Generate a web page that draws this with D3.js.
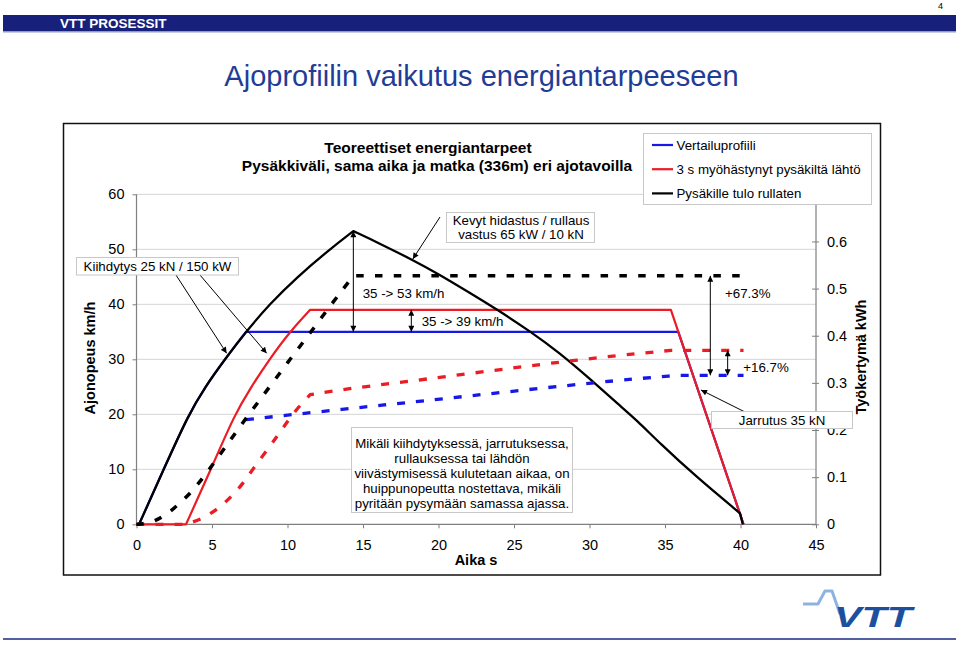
<!DOCTYPE html>
<html><head><meta charset="utf-8">
<script src="https://cdn.jsdelivr.net/npm/d3@7"></script>
<style>
body{margin:0;background:#fff}
svg{display:block}
text{font-family:"Liberation Sans",Arial,Helvetica,sans-serif;fill:#000}
</style>
</head><body>
<svg id="c" width="959" height="656"></svg>
<script>
// ---------- DATA ----------
const xTicks = [0,5,10,15,20,25,30,35,40,45];
const yLeftTicks = [0,10,20,30,40,50,60];
const yRightTicks = [0,0.1,0.2,0.3,0.4,0.5,0.6];
const legendLabels = ["Vertailuprofiili","3 s myöhästynyt pysäkiltä lähtö","Pysäkille tulo rullaten"];

// speed km/h vs time s
const speedBlue = [[0,0],[0.17,0],[1.8,10],[3.45,20],[4.55,25],[5.85,30],[7.25,35],[35.88,35],[40.2,0]];
const speedRed = [[0,0],[3.28,0],[4.93,10],[6.5,20],[7.6,25],[8.8,30],[10.15,35],[11.5,39],[35.39,39],[40.2,0]];
const speedBlack = [[0,0],[0.17,0],[1.8,10],[3.45,20],[4.55,25],[5.85,30],[7.25,35],[8.8,40],[10.65,45],[12.8,50],[14.36,53.3],
  [16,51.2],[18.3,48.05],[20,45.5],[22,42.2],[23.85,39.1],[26.06,35.1],[28,31.2],[30,26.5],[32,21.6],[33.1,19],[34.67,14.7],[37,8.8],[39.97,2.0],[40.15,0]];

// cumulative work kWh vs time s
const workBlue = [[7.25,0.222],[13.9,0.245],[18.8,0.261],[25.4,0.284],[32,0.306],[35.88,0.316],[40.2,0.316]];
const workRed = [[0,0],[3.28,0],[4.3,0.011],[5.3,0.03],[6.3,0.059],[7.07,0.087],[7.7,0.117],[8.5,0.151],[9.3,0.186],[9.95,0.216],[10.7,0.248],[11.5,0.275],
  [14,0.288],[18.8,0.306],[25.4,0.334],[30.9,0.355],[35.39,0.369],[40.2,0.369]];
const workBlack = [[0,0],[0.17,0],[1.0,0.004],[1.78,0.016],[2.77,0.041],[3.65,0.069],[4.43,0.099],[5.8,0.160],[7.18,0.222],[8.73,0.288],[10.17,0.350],[11.64,0.412],[13.03,0.472],[14.36,0.527],[40.15,0.527]];

// annotation values
const peakBlack = [14.36,53.3];
const cruiseBlue = 35, cruiseRed = 39;
const arrow39T = 18.2;
const finalWork = {blue:0.316, red:0.369, black:0.527};
const arrow673T = 38.0, arrow167T = 39.15;

// ---------- SETUP ----------
const svg = d3.select("#c");
const x = d3.scaleLinear().domain([0,45]).range([136.5,816]);
const yL = d3.scaleLinear().domain([0,60]).range([524.3,194.3]);
const yR = d3.scaleLinear().domain([0,0.7]).range([524.3,194.3]);
const BLUE="#1717e6", RED="#ec1c24", BLACK="#000";

const defs = svg.append("defs");
defs.append("marker").attr("id","ah").attr("viewBox","0 0 10 10").attr("refX",10).attr("refY",5)
  .attr("markerWidth",7).attr("markerHeight",6).attr("markerUnits","userSpaceOnUse")
  .attr("orient","auto-start-reverse").append("path").attr("d","M0,0L10,5L0,10z").attr("fill","#000");

// header
svg.append("text").attr("x",938).attr("y",9).attr("font-size",9).text("4");
svg.append("rect").attr("x",3).attr("y",15).attr("width",953).attr("height",16).attr("fill","#17207a");
svg.append("rect").attr("x",3).attr("y",31).attr("width",953).attr("height",1.5).attr("fill","#8f9cc8");
svg.append("text").attr("x",60).attr("y",27.5).attr("font-size",13.5).attr("font-weight","bold")
  .style("fill","#fff").text("VTT PROSESSIT");
svg.append("text").attr("x",481.5).attr("y",86).attr("text-anchor","middle").attr("font-size",29)
  .style("fill","#1f3d96").text("Ajoprofiilin vaikutus energiantarpeeseen");

// chart frame
svg.append("rect").attr("x",63.5).attr("y",123.5).attr("width",817).attr("height",451.5)
  .attr("fill","#fff").attr("stroke","#111").attr("stroke-width",1.5);

// chart titles
svg.append("text").attr("x",428).attr("y",153).attr("text-anchor","middle").attr("font-size",15.5).attr("font-weight","bold")
  .text("Teoreettiset energiantarpeet");
svg.append("text").attr("x",437).attr("y",171).attr("text-anchor","middle").attr("font-size",15.5).attr("font-weight","bold")
  .text("Pysäkkiväli, sama aika ja matka (336m) eri ajotavoilla");

// gridlines
svg.append("g").selectAll("line").data(yLeftTicks.filter(d=>d>0)).join("line")
  .attr("x1",x(0)).attr("x2",x(45)).attr("y1",d=>yL(d)).attr("y2",d=>yL(d))
  .attr("stroke","#d4d4d4").attr("stroke-width",1);

// axes
const axisCol="#7f7f7f";
const gL = svg.append("g").attr("transform",`translate(${x(0)},0)`)
  .call(d3.axisLeft(yL).tickValues(yLeftTicks).tickSize(4).tickPadding(8).tickFormat(d3.format("d")));
const gB = svg.append("g").attr("transform",`translate(0,${yL(0)})`)
  .call(d3.axisBottom(x).tickValues(xTicks).tickSize(4).tickPadding(11).tickFormat(d3.format("d")));
const gR = svg.append("g").attr("transform",`translate(${x(45)},0)`)
  .call(d3.axisRight(yR).tickValues(yRightTicks).tickSize(3).tickPadding(8).tickFormat(d=>d===0?"0":d3.format(".1f")(d)));
gR.selectAll(".tick line").attr("x1",-4);
[gL,gB,gR].forEach(g=>{
  g.select(".domain").attr("stroke",axisCol).attr("stroke-width",1.2);
  g.selectAll(".tick line").attr("stroke",axisCol);
  g.selectAll(".tick text").attr("font-size",14.5).attr("font-family","Liberation Sans, Arial, sans-serif").style("fill","#000");
});
gL.select(".domain").attr("d",`M0,${yL(60)}V${yL(0)}`);
gR.select(".domain").attr("d",`M0,${yR(0.7)}V${yR(0)}`);
gB.select(".domain").attr("d",`M${x(0)},0H${x(45)}`);

// axis titles
svg.append("text").attr("transform","translate(95,358) rotate(-90)").attr("text-anchor","middle")
  .attr("font-size",14.5).attr("font-weight","bold").text("Ajonopeus km/h");
svg.append("text").attr("transform","translate(866,357) rotate(-90)").attr("text-anchor","middle")
  .attr("font-size",14.5).attr("font-weight","bold").text("Työkertymä kWh");
svg.append("text").attr("x",476).attr("y",565).attr("text-anchor","middle")
  .attr("font-size",14.5).attr("font-weight","bold").text("Aika s");

// series: path built from segments, smooth (B-spline) where the profile is curved
function pathOf(data, ys, smoothRanges){
  let d = "";
  const lin = d3.line().x(p=>x(p[0])).y(p=>ys(p[1]));
  const smo = d3.line().x(p=>x(p[0])).y(p=>ys(p[1])).curve(d3.curveBasis);
  const parts = [];
  let last = 0;
  smoothRanges.forEach(([a,b])=>{
    if(a>last) parts.push([lin, data.slice(last,a+1)]);
    parts.push([smo, data.slice(a,b+1)]);
    last = b;
  });
  if(last < data.length-1) parts.push([lin, data.slice(last)]);
  parts.forEach(([gen,seg],k)=>{
    let s = gen(seg);
    if(k>0) s = s.replace(/^M/,"L");
    d += s;
  });
  return d;
}
const gS = svg.append("g").attr("fill","none").attr("stroke-linejoin","round");
gS.append("path").attr("d",pathOf(speedBlue,yL,[[1,6]])).attr("stroke",BLUE).attr("stroke-width",2.2);
gS.append("path").attr("d",pathOf(speedRed,yL,[[1,7]])).attr("stroke",RED).attr("stroke-width",2.2);
gS.append("path").attr("d",pathOf(speedBlack,yL,[[1,10],[10,23]])).attr("stroke",BLACK).attr("stroke-width",2.3);
gS.append("path").attr("d",pathOf(workBlue,yR,[[0,5]])).attr("stroke",BLUE).attr("stroke-width",3.3).attr("stroke-dasharray","8,11");
gS.append("path").attr("d",pathOf(workRed,yR,[[1,11],[11,16]])).attr("stroke",RED).attr("stroke-width",3.3).attr("stroke-dasharray","8,11");
gS.append("path").attr("d",pathOf(workBlack,yR,[[1,13]])).attr("stroke",BLACK).attr("stroke-width",3.5).attr("stroke-dasharray","7.5,11.3");

// annotation helpers
const gA = svg.append("g");
function arrow(x1,y1,x2,y2,both){
  const l = gA.append("line").attr("x1",x1).attr("y1",y1).attr("x2",x2).attr("y2",y2)
    .attr("stroke","#000").attr("stroke-width",1).attr("marker-end","url(#ah)");
  if(both) l.attr("marker-start","url(#ah)");
}
function box(x0,y0,w,h){
  gA.append("rect").attr("x",x0).attr("y",y0).attr("width",w).attr("height",h)
    .attr("fill","#fff").attr("stroke","#c8c8c8").attr("stroke-width",1);
}
function label(tx,ty,str,anchor){
  gA.append("text").attr("x",tx).attr("y",ty).attr("font-size",13.3).attr("text-anchor",anchor||"start").text(str);
}

// Kiihdytys
arrow(176,275,x(5.97),yL(31.1));
arrow(200,275,x(8.62),yL(31.1));
box(76.5,257.5,162,17.5);
label(157.5,271.3,"Kiihdytys 25 kN / 150 kW","middle");

// Kevyt hidastus
arrow(440,217,x(18.3),yL(48.05)-1);
box(446.5,212.5,148,30);
label(521,224.7,"Kevyt hidastus / rullaus","middle");
label(521,239,"vastus 65 kW / 10 kN","middle");

// speed increase arrows
arrow(x(peakBlack[0]),yL(peakBlack[1]),x(peakBlack[0]),yL(cruiseBlue),true);
label(362.7,297.7,"35 -> 53 km/h");
arrow(x(arrow39T),yL(cruiseRed),x(arrow39T),yL(cruiseBlue),true);
label(421.7,326.3,"35 -> 39 km/h");

// energy increase arrows
arrow(x(arrow673T),yR(finalWork.black),x(arrow673T),yR(finalWork.blue),true);
label(725,298,"+67.3%");
arrow(x(arrow167T),yR(finalWork.red),x(arrow167T),yR(finalWork.blue),true);
label(743.3,372,"+16.7%");

// Jarrutus
arrow(745,412,701,390);
box(711.5,411.5,141,17);
label(782,424.7,"Jarrutus 35 kN","middle");

// Mikäli box
box(351.5,427.5,221,85);
["Mikäli kiihdytyksessä, jarrutuksessa,","rullauksessa tai lähdön","viivästymisessä kulutetaan aikaa, on",
 "huippunopeutta nostettava, mikäli","pyritään pysymään samassa ajassa."].forEach((s,i)=>label(462,448+i*15,s,"middle"));

// legend
const gLeg = svg.append("g");
gLeg.append("rect").attr("x",643.5).attr("y",133.5).attr("width",228).attr("height",71)
  .attr("fill","#fff").attr("stroke","#c8c8c8");
[BLUE,RED,BLACK].forEach((c,i)=>{
  const cy = 145+i*24.2;
  gLeg.append("line").attr("x1",652).attr("x2",673).attr("y1",cy).attr("y2",cy).attr("stroke",c).attr("stroke-width",2.2);
  gLeg.append("text").attr("x",676.5).attr("y",cy+4.7).attr("font-size",13.3).text(legendLabels[i]);
});

// footer + logo
svg.append("line").attr("x1",3).attr("x2",956).attr("y1",639).attr("y2",639).attr("stroke","#1b2a80").attr("stroke-width",1.5);
svg.append("polyline").attr("points","803,604 818,604 825,591 832,591 840,614")
  .attr("fill","none").attr("stroke","#8db3e2").attr("stroke-width",3).attr("stroke-linejoin","round");
svg.append("text").attr("x",834).attr("y",627).attr("font-size",29).attr("font-weight","bold").attr("font-style","italic")
  .attr("textLength",78).attr("lengthAdjust","spacingAndGlyphs").style("fill","#1d4f9f").text("VTT");
</script>
</body></html>
